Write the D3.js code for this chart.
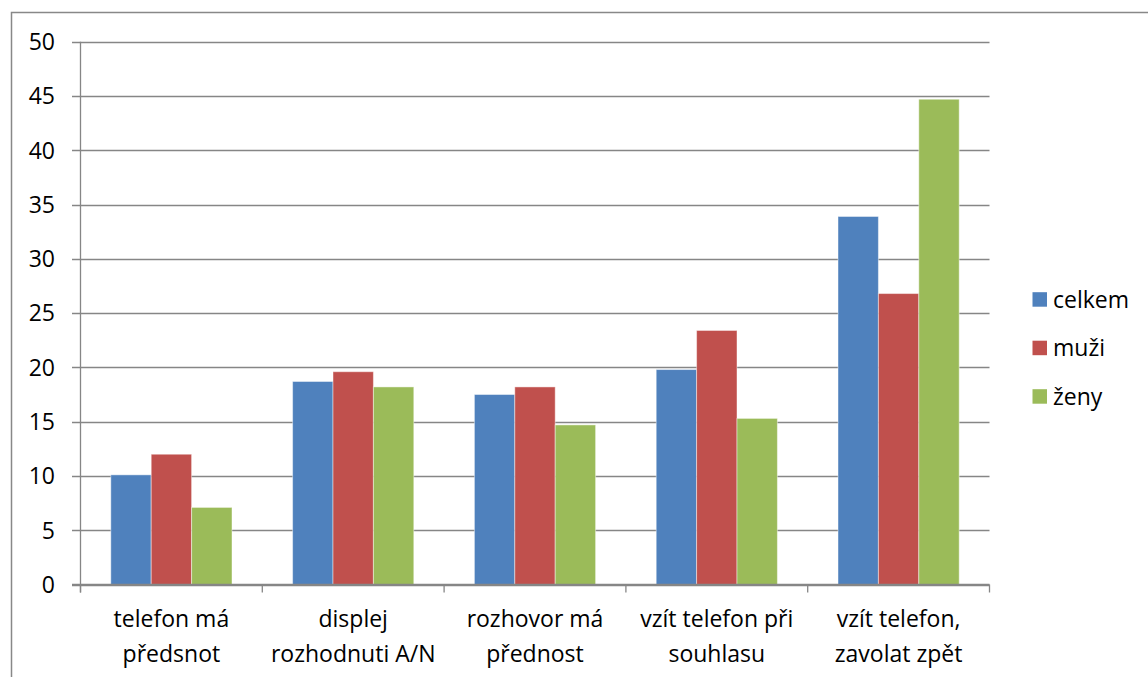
<!DOCTYPE html>
<html><head><meta charset="utf-8">
<script src="https://cdn.jsdelivr.net/npm/d3@7"></script>
<style>body{margin:0;background:#fff}svg{display:block}text{font-family:"Open Sans",sans-serif;fill:#000}</style>
</head><body>
<script>
const categories = [["telefon má","předsnot"],["displej","rozhodnuti A/N"],["rozhovor má","přednost"],["vzít telefon při","souhlasu"],["vzít telefon,","zavolat zpět"]];
const seriesNames = ["celkem","muži","ženy"];
const celkem = [10.1, 18.7, 17.5, 19.8, 33.9];
const muzi = [12.0, 19.6, 18.2, 23.4, 26.8];
const zeny = [7.1, 18.2, 14.7, 15.3, 44.7];
const yTicks = [0,5,10,15,20,25,30,35,40,45,50];
const colors = ["#4F81BD","#C0504D","#9BBB59"];
const series = [celkem, muzi, zeny];

(function(){
const W = 1148, H = 677;
const svg = d3.select("body").append("svg").attr("width", W).attr("height", H);
const fs = 23;
svg.append("rect").attr("x",11.5).attr("y",12.5).attr("width",1300).attr("height",800)
  .attr("fill","none").attr("stroke","#888888").attr("stroke-width",1.5);

const pL = 80.5, pR = 989.5, pT = 41.7, pB = 584.5;
const y = d3.scaleLinear().domain([0,50]).range([pB, pT]);
const x0 = d3.scaleBand().domain(d3.range(categories.length)).range([pL, pR]).padding(0);
const gap = x0.bandwidth()/6;
const x1 = d3.scaleBand().domain(d3.range(series.length)).range([gap, x0.bandwidth()-gap]).padding(0);

svg.append("g").selectAll("line").data(yTicks).join("line")
  .attr("x1", pL-8.5).attr("x2", pR).attr("y1", d=>Math.round(y(d))+0.5).attr("y2", d=>Math.round(y(d))+0.5)
  .attr("stroke","#868686").attr("stroke-width",1.3);
svg.append("g").selectAll("text").data(yTicks).join("text")
  .attr("x", 55).attr("y", d=>y(d)+8.3).attr("text-anchor","end").attr("font-size",fs).text(d=>d);

const g = svg.append("g");
categories.forEach((c,i)=>{
  series.forEach((s,j)=>{
    g.append("rect").attr("x", x0(i)+x1(j)).attr("y", y(s[i]))
      .attr("width", x1.bandwidth()).attr("height", y(0)-y(s[i]))
      .attr("fill", colors[j]).attr("stroke","rgba(255,255,255,0.45)").attr("stroke-width",1);
  });
});

svg.append("line").attr("x1",pL).attr("x2",pL).attr("y1",pT).attr("y2",pB+8)
  .attr("stroke","#868686").attr("stroke-width",1.3);
svg.append("line").attr("x1",pL-8.5).attr("x2",pR).attr("y1",pB).attr("y2",pB)
  .attr("stroke","#868686").attr("stroke-width",1.3);
const xt = d3.range(categories.length+1).map(i=> i<categories.length ? x0(i) : pR);
svg.append("g").selectAll("line").data(xt).join("line")
  .attr("x1",d=>d).attr("x2",d=>d).attr("y1",pB).attr("y2",pB+8)
  .attr("stroke","#868686").attr("stroke-width",1.3);

categories.forEach((c,i)=>{
  const cx = x0(i)+x0.bandwidth()/2;
  const t = svg.append("text").attr("text-anchor","middle").attr("font-size",fs);
  c.forEach((line,k)=> t.append("tspan").attr("x", cx).attr("y", 627+k*35).text(line));
});

const lg = svg.append("g");
seriesNames.forEach((n,j)=>{
  const cy = 299.5 + j*48.5;
  lg.append("rect").attr("x",1032.5).attr("y",cy-7.3).attr("width",14.5).attr("height",14.5).attr("fill",colors[j]);
  lg.append("text").attr("x",1053).attr("y",cy+8).attr("font-size",fs).text(n);
});
})();
</script>
</body></html>
